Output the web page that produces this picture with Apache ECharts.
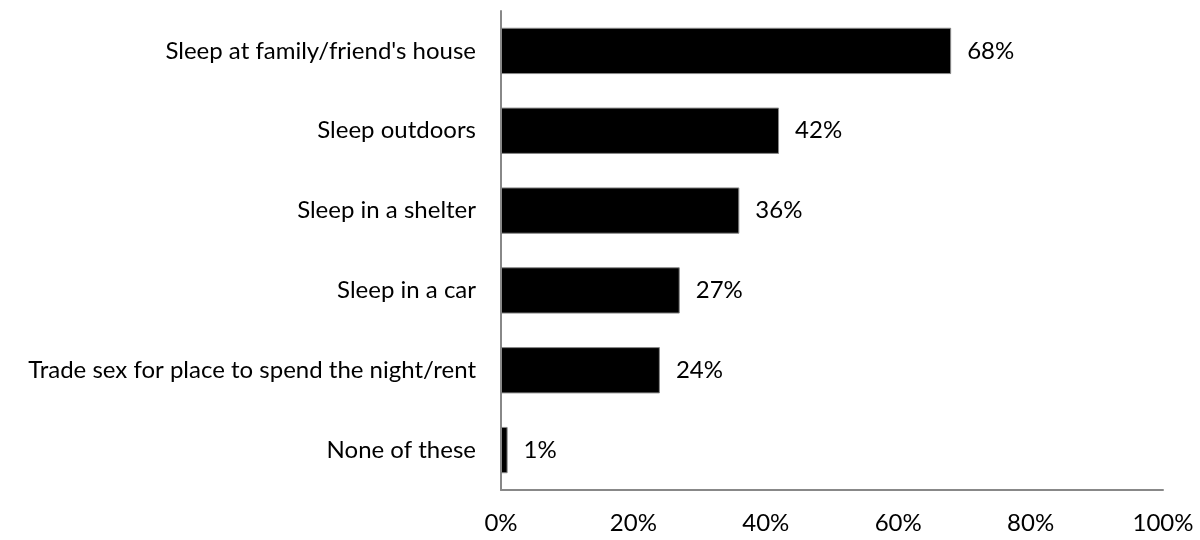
<!DOCTYPE html>
<html>
<head>
<meta charset="utf-8">
<script src="https://cdn.jsdelivr.net/npm/echarts@6/dist/echarts.min.js"></script>
<style>
  html, body { margin: 0; padding: 0; background: #fff; }
  #chart { width: 1200px; height: 540px; }
</style>
</head>
<body>
<div id="chart"></div>
<script>
// Places slept, share of respondents (%)
const categories = [
  "Sleep at family/friend's house",
  "Sleep outdoors",
  "Sleep in a shelter",
  "Sleep in a car",
  "Trade sex for place to spend the night/rent",
  "None of these"
];
const values = [68, 42, 36, 27, 24, 1];
const xTicks = [0, 20, 40, 60, 80, 100];

const FONT = 'Lato, "Open Sans", sans-serif';
const SIZE = 24;

const chart = echarts.init(document.getElementById('chart'), null, { renderer: 'canvas' });
chart.setOption({
  animation: false,
  grid: { left: 501, right: 37, top: 11, bottom: 50, containLabel: false },
  xAxis: {
    type: 'value',
    min: xTicks[0],
    max: xTicks[xTicks.length - 1],
    interval: xTicks[1] - xTicks[0],
    axisLine: { show: true, lineStyle: { color: '#888', width: 2 } },
    axisTick: { show: false },
    splitLine: { show: false },
    axisLabel: {
      formatter: v => v + '%',
      color: '#000',
      fontFamily: FONT,
      fontSize: SIZE,
      margin: 21
    }
  },
  yAxis: {
    type: 'category',
    inverse: true,
    data: categories,
    axisLine: { show: true, lineStyle: { color: '#888', width: 2 } },
    axisTick: { show: false },
    axisLabel: {
      color: '#000',
      fontFamily: FONT,
      fontSize: SIZE,
      margin: 25
    }
  },
  series: [{
    type: 'bar',
    data: values,
    barCategoryGap: '42%',
    itemStyle: { color: '#000', borderColor: '#888', borderWidth: 1 },
    label: {
      show: true,
      position: 'right',
      distance: 16,
      formatter: p => p.value + '%',
      color: '#000',
      fontFamily: FONT,
      fontSize: SIZE
    }
  }]
});
</script>
</body>
</html>
